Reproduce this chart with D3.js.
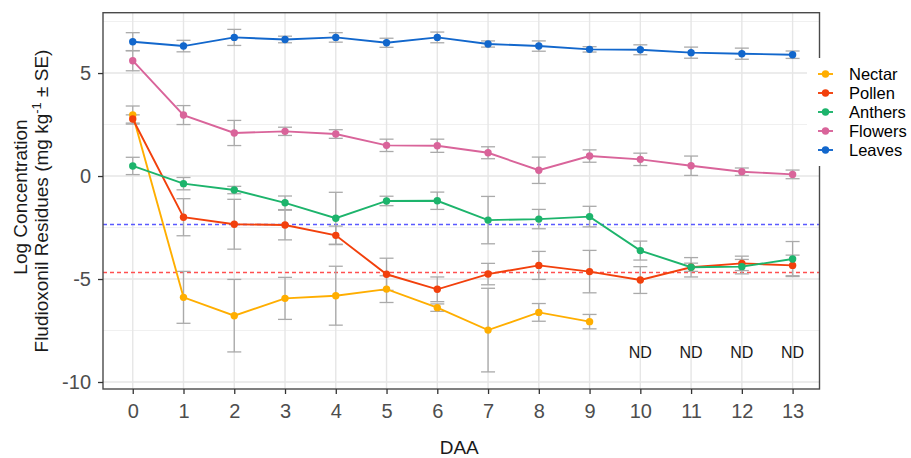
<!DOCTYPE html>
<html>
<head>
<meta charset="utf-8">
<script src="https://cdn.jsdelivr.net/npm/d3@7"></script>
<style>
  html, body { margin: 0; padding: 0; background: #fff; }
  svg { display: block; font-family: "Liberation Sans", Arial, Helvetica, sans-serif; }
</style>
</head>
<body>
<svg id="chart" width="911" height="458"></svg>
<script>
// ---- data ----
const days = [0, 1, 2, 3, 4, 5, 6, 7, 8, 9, 10, 11, 12, 13];
const seriesNames = ["Nectar", "Pollen", "Anthers", "Flowers", "Leaves"];
const seriesColors = ["#FFAE00", "#F2400C", "#1DB46C", "#D9649A", "#1267CC"];

const nectar    = [2.96, -5.89, -6.78, -5.94, -5.81, -5.49, -6.39, -7.48, -6.62, -7.07];
const nectarSE  = [0.44, 1.26, 1.76, 1.02, 1.43, 0.65, 0.18, 2.03, 0.43, 0.35];
const pollen    = [2.77, -2.00, -2.34, -2.38, -2.88, -4.77, -5.50, -4.76, -4.34, -4.64, -5.05, -4.43, -4.24, -4.34];
const pollenSE  = [0.20, 0.90, 1.21, 0.72, 0.45, 0.78, 0.60, 0.52, 0.68, 1.03, 0.65, 0.20, 0.35, 0.50];
const anthers   = [0.49, -0.37, -0.68, -1.30, -2.05, -1.21, -1.20, -2.14, -2.09, -1.97, -3.62, -4.43, -4.40, -4.03];
const anthersSE = [0.42, 0.30, 0.18, 0.33, 1.26, 0.23, 0.42, 1.15, 0.47, 0.50, 0.46, 0.47, 0.35, 0.85];
const flowers   = [5.60, 2.96, 2.09, 2.17, 2.04, 1.49, 1.47, 1.13, 0.28, 0.97, 0.81, 0.50, 0.21, 0.08];
const flowersSE = [0.49, 0.46, 0.61, 0.20, 0.21, 0.30, 0.32, 0.29, 0.64, 0.30, 0.30, 0.47, 0.18, 0.21];
const leaves    = [6.52, 6.31, 6.73, 6.63, 6.73, 6.47, 6.73, 6.41, 6.31, 6.15, 6.13, 5.99, 5.94, 5.89];
const leavesSE  = [0.44, 0.28, 0.39, 0.16, 0.23, 0.22, 0.26, 0.15, 0.25, 0.13, 0.24, 0.27, 0.27, 0.18];

const refLines = [-2.33, -4.65];
const refColors = ["#5a5aff", "#ff5050"];
const ndDays = [10, 11, 12, 13];
const ndLabel = "ND";
const ndValue = -8.56;

const yTicks = [-10, -5, 0, 5];
const yMinor = [-7.5, -2.5, 2.5, 7.5];
const xLabel = "DAA";

// ---- build ----
const valuesList = [nectar, pollen, anthers, flowers, leaves];
const seList = [nectarSE, pollenSE, anthersSE, flowersSE, leavesSE];
const series = seriesNames.map((name, i) => ({
  name, color: seriesColors[i],
  points: valuesList[i].map((v, j) => ({ x: days[j], y: v, se: seList[i][j] }))
}));

const svg = d3.select("#chart");
const P = { left: 103, right: 819.5, top: 12.7, bottom: 389 };
const x = d3.scaleLinear().domain([-0.586, 13.53]).range([P.left, P.right]);
const y = d3.scaleLinear().domain([-10.34, 7.93]).range([P.bottom, P.top]);

// grid
const grid = svg.append("g");
grid.selectAll(".ymin").data(yMinor.filter(v => y(v) > P.top && y(v) < P.bottom)).join("line")
  .attr("x1", P.left).attr("x2", P.right).attr("y1", d => y(d)).attr("y2", d => y(d))
  .attr("stroke", "#f0f0f0").attr("stroke-width", 1);
grid.selectAll(".ymaj").data(yTicks).join("line")
  .attr("x1", P.left).attr("x2", P.right).attr("y1", d => y(d)).attr("y2", d => y(d))
  .attr("stroke", "#e6e6e6").attr("stroke-width", 1.4);
grid.selectAll(".xmaj").data(days).join("line")
  .attr("y1", P.top).attr("y2", P.bottom).attr("x1", d => x(d)).attr("x2", d => x(d))
  .attr("stroke", "#e6e6e6").attr("stroke-width", 1.4);

// reference dashed lines (snapped to the pixel grid for crispness)
const snap = v => Math.round(v) + 0.5;
svg.append("g").selectAll("line").data(refLines).join("line")
  .attr("x1", P.left).attr("x2", P.right).attr("y1", d => snap(y(d))).attr("y2", d => snap(y(d)))
  .attr("stroke", (d, i) => refColors[i]).attr("stroke-width", 1.3)
  .attr("stroke-dasharray", "4,3");

// error bars
const eb = svg.append("g");
series.forEach(s => {
  const g = eb.append("g");
  g.selectAll(".v").data(s.points).join("line")
    .attr("x1", d => x(d.x)).attr("x2", d => x(d.x))
    .attr("y1", d => y(d.y + d.se)).attr("y2", d => y(d.y - d.se))
    .attr("stroke", "#aaaaaa").attr("stroke-width", 1.3);
  ["top", "bot"].forEach(k => {
    g.selectAll("." + k).data(s.points).join("line")
      .attr("x1", d => x(d.x) - 7).attr("x2", d => x(d.x) + 7)
      .attr("y1", d => y(k === "top" ? d.y + d.se : d.y - d.se))
      .attr("y2", d => y(k === "top" ? d.y + d.se : d.y - d.se))
      .attr("stroke", "#aaaaaa").attr("stroke-width", 1.3);
  });
});

// lines and points
const line = d3.line().x(d => x(d.x)).y(d => y(d.y));
series.forEach(s => {
  svg.append("path").datum(s.points).attr("d", line)
    .attr("fill", "none").attr("stroke", s.color).attr("stroke-width", 1.9);
  svg.append("g").selectAll("circle").data(s.points).join("circle")
    .attr("cx", d => x(d.x)).attr("cy", d => y(d.y)).attr("r", 3.7)
    .attr("fill", s.color);
});

// ND labels
svg.append("g").selectAll("text").data(ndDays).join("text")
  .attr("x", d => x(d)).attr("y", y(ndValue)).attr("dy", "0.36em")
  .attr("text-anchor", "middle").attr("font-size", 16).attr("fill", "#1a1a1a")
  .text(ndLabel);

// panel border
svg.append("rect").attr("x", P.left).attr("y", P.top)
  .attr("width", P.right - P.left).attr("height", P.bottom - P.top)
  .attr("fill", "none").attr("stroke", "#4a4a4a").attr("stroke-width", 1.4);

// axes
const yAxis = svg.append("g").attr("transform", `translate(${P.left},0)`)
  .call(d3.axisLeft(y).tickValues(yTicks).tickSize(5).tickPadding(7).tickFormat(d3.format("d")));
const xAxis = svg.append("g").attr("transform", `translate(0,${P.bottom})`)
  .call(d3.axisBottom(x).tickValues(days).tickSize(5).tickPadding(10).tickFormat(d3.format("d")));
[yAxis, xAxis].forEach(a => {
  a.select(".domain").remove();
  a.selectAll(".tick line").attr("stroke", "#333").attr("stroke-width", 1.3);
  a.selectAll(".tick text").attr("font-size", 20).attr("fill", "#4d4d4d")
    .attr("font-family", "'Liberation Sans', Arial, sans-serif");
});
yAxis.selectAll(".tick text").text(d => d < 0 ? "-" + Math.abs(d) : d);

// axis titles
svg.append("text").attr("x", (P.left + P.right) / 2 - 2).attr("y", 454)
  .attr("text-anchor", "middle").attr("font-size", 19).attr("fill", "#1a1a1a").text(xLabel);

svg.append("text").attr("transform", "translate(27,197) rotate(-90)")
  .attr("text-anchor", "middle").attr("font-size", 19).attr("fill", "#1a1a1a")
  .text("Log Concentration");
const t2 = svg.append("text").attr("transform", "translate(47.5,201) rotate(-90)")
  .attr("text-anchor", "middle").attr("font-size", 19).attr("fill", "#1a1a1a");
t2.append("tspan").text("Fludioxonil Residues (mg kg");
t2.append("tspan").attr("font-size", 13).attr("dy", -7).text("-1");
t2.append("tspan").attr("dy", 7).text(" \u00B1 SE)");

// legend
const lg = svg.append("g");
lg.append("rect").attr("x", 807).attr("y", 58).attr("width", 104).attr("height", 108).attr("fill", "#fff");
const rows = lg.selectAll("g.row").data(series).join("g")
  .attr("transform", (d, i) => `translate(0,${74 + i * 19})`);
rows.append("line").attr("x1", 818).attr("x2", 833).attr("y1", 0).attr("y2", 0)
  .attr("stroke", d => d.color).attr("stroke-width", 1.9);
rows.append("circle").attr("cx", 825.5).attr("cy", 0).attr("r", 3.7).attr("fill", d => d.color);
rows.append("text").attr("x", 849).attr("y", 0).attr("dy", "0.36em")
  .attr("font-size", 16.5).attr("fill", "#000").text(d => d.name);
</script>
</body>
</html>
